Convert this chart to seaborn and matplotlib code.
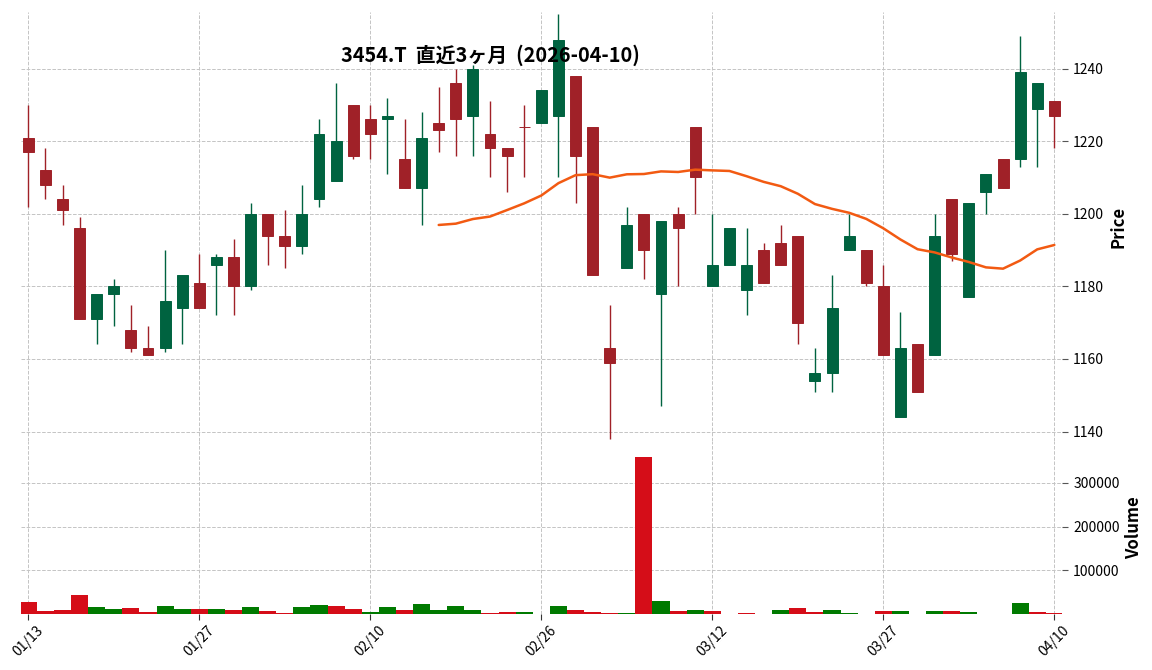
import numpy as np
import pandas as pd
import matplotlib
matplotlib.use("Agg")
from matplotlib import pyplot as plt
import seaborn as sns

# daily bars
dates = ['01/13', '01/14', '01/15', '01/16', '01/19', '01/20', '01/21', '01/22', '01/23', '01/26',
         '01/27', '01/28', '01/29', '01/30', '02/02', '02/03', '02/04', '02/05', '02/06', '02/09',
         '02/10', '02/12', '02/13', '02/16', '02/17', '02/18', '02/19', '02/20', '02/24', '02/25',
         '02/26', '02/27', '03/02', '03/03', '03/04', '03/05', '03/06', '03/09', '03/10', '03/11',
         '03/12', '03/13', '03/16', '03/17', '03/18', '03/19', '03/23', '03/24', '03/25', '03/26',
         '03/27', '03/30', '03/31', '04/01', '04/02', '04/03', '04/06', '04/07', '04/08', '04/09',
         '04/10']
opens = [1221, 1212, 1204, 1196, 1171, 1178, 1168, 1163, 1163, 1174,
         1181, 1186, 1188, 1180, 1200, 1194, 1191, 1204, 1209, 1230,
         1226, 1226, 1215, 1207, 1225, 1236, 1227, 1222, 1218, 1224,
         1225, 1227, 1238, 1224, 1163, 1185, 1200, 1178, 1200, 1224,
         1180, 1186, 1179, 1190, 1192, 1194, 1154, 1156, 1190, 1190,
         1180, 1144, 1164, 1161, 1204, 1177, 1206, 1215, 1215, 1229,
         1231]
highs = [1230, 1218, 1208, 1199, 1178, 1182, 1175, 1169, 1190, 1183,
         1189, 1189, 1193, 1203, 1200, 1201, 1208, 1226, 1236, 1230,
         1230, 1232, 1226, 1228, 1235, 1240, 1241, 1231, 1218, 1230,
         1234, 1255, 1238, 1224, 1175, 1202, 1200, 1198, 1202, 1224,
         1200, 1196, 1196, 1192, 1197, 1194, 1163, 1183, 1200, 1190,
         1186, 1173, 1164, 1200, 1204, 1203, 1211, 1215, 1249, 1236,
         1231]
lows = [1202, 1204, 1197, 1171, 1164, 1169, 1162, 1161, 1162, 1164,
        1174, 1172, 1172, 1179, 1186, 1185, 1189, 1202, 1209, 1215,
        1215, 1211, 1207, 1197, 1217, 1216, 1216, 1210, 1206, 1210,
        1225, 1210, 1203, 1183, 1138, 1185, 1182, 1147, 1180, 1200,
        1180, 1186, 1172, 1181, 1186, 1164, 1151, 1151, 1190, 1180,
        1161, 1144, 1151, 1161, 1187, 1177, 1200, 1207, 1213, 1213,
        1218]
closes = [1217, 1208, 1201, 1171, 1178, 1180, 1163, 1161, 1176, 1183,
          1174, 1188, 1180, 1200, 1194, 1191, 1200, 1222, 1220, 1216,
          1222, 1227, 1207, 1221, 1223, 1226, 1240, 1218, 1216, 1224,
          1234, 1248, 1216, 1183, 1159, 1197, 1190, 1198, 1196, 1210,
          1186, 1196, 1186, 1181, 1186, 1170, 1156, 1174, 1194, 1181,
          1161, 1163, 1151, 1194, 1189, 1203, 1211, 1207, 1239, 1236,
          1227]
volumes = [28000, 6100, 8400, 43000, 15300, 10700, 13000, 3800, 17600, 10700,
           10700, 10700, 8400, 15300, 6100, 1500, 15300, 19900, 17600, 10700,
           3800, 15300, 8400, 22200, 8400, 17600, 8400, 1500, 3800, 3800,
           300, 18500, 9200, 4600, 2300, 2300, 360000, 29200, 6900, 9200,
           6900, 300, 2300, 300, 9200, 13800, 4600, 9200, 2300, 300,
           6900, 6900, 300, 6900, 6900, 4600, 300, 300, 25400, 4600,
           2300]

UP, DOWN = '#006340', '#A02128'
VUP, VDOWN = '#007a00', '#d50d18'

sns.set_theme(style='white')
plt.rcParams['font.family'] = ['Noto Sans CJK JP', 'DejaVu Sans']
plt.rcParams['text.color'] = 'black'
plt.rcParams['axes.labelcolor'] = 'black'
plt.rcParams['xtick.color'] = 'black'
plt.rcParams['ytick.color'] = 'black'

df = pd.DataFrame({'o': opens, 'h': highs, 'l': lows, 'c': closes, 'v': volumes})
df['x'] = np.arange(len(df))
df['ma'] = df['c'].rolling(25).mean()
df['vdir'] = np.where(df['c'] > df['c'].shift(1), 'up', 'down')

fig = plt.figure(figsize=(11.52, 6.7), dpi=100)
ax = fig.add_axes([0.0179, 0.3418, 0.9040, 0.6403])
axv = fig.add_axes([0.0179, 0.0836, 0.9040, 0.2582], sharex=ax)

# candles
ccol = [UP if c > o else DOWN for o, c in zip(df['o'], df['c'])]
ax.vlines(df['x'], df['l'], df['h'], colors=ccol, linewidth=1.0, zorder=2)
ax.bar(df['x'], (df['c'] - df['o']).abs(), bottom=df[['o', 'c']].min(axis=1),
       width=0.64, color=ccol, edgecolor=ccol, linewidth=0.7, zorder=3)

# 25-day moving average
ma = df.dropna(subset=['ma'])
sns.lineplot(x=ma['x'], y=ma['ma'], color='#f25a12', linewidth=1.8, ax=ax, zorder=4)

# volume
sns.barplot(x=df['x'], y=df['v'], hue=df['vdir'], palette={'up': VUP, 'down': VDOWN},
            native_scale=True, width=1.0, dodge=False, saturation=1, errorbar=None,
            linewidth=0, legend=False, ax=axv)

ticks = list(range(0, len(dates), 10))
for a in (ax, axv):
    a.set_xlim(-0.45, len(dates) - 0.55)
    a.grid(True, linestyle='--', color='#c4c4c4', linewidth=0.7)
    a.set_axisbelow(True)
    for s in a.spines.values():
        s.set_visible(False)
    a.yaxis.tick_right()
    a.yaxis.set_label_position('right')
    a.tick_params(axis='y', which='both', right=True, left=False, length=4, width=0.8,
                  color='#555555', labelsize=10, pad=4)
    a.set_xticks(ticks)
    a.set_xlabel('')

ax.set_ylim(1137.4, 1255.6)
ax.set_yticks(range(1140, 1241, 20))
ax.tick_params(axis='x', length=0, labelbottom=False)
ax.set_ylabel('Price', fontsize=12, fontweight='bold', labelpad=4)

axv.set_ylim(0, 1.1 * max(volumes))
axv.set_yticks([100000, 200000, 300000])
axv.set_yticklabels(['100000', '200000', '300000'])
axv.set_ylabel('Volume', fontsize=12, fontweight='bold', labelpad=4)
axv.set_xticklabels([dates[i] for i in ticks], rotation=45, ha='center', fontsize=10)
axv.tick_params(axis='x', bottom=True, length=4, width=0.8, color='#333333', labelsize=10, pad=3)

fig.text(0.426, 0.918, '3454.T  直近3ヶ月  (2026-04-10)', ha='center', va='center',
         fontsize=14.3, fontweight='bold')

fig.savefig('out.png', dpi=100)
